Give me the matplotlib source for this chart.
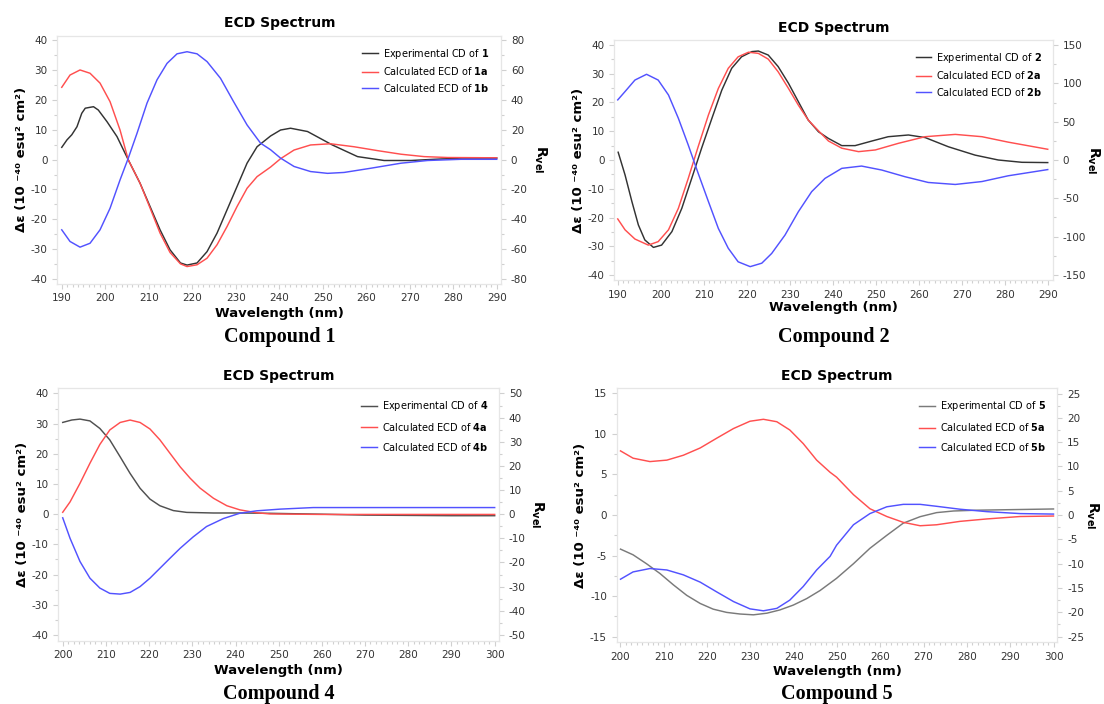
import matplotlib
matplotlib.use('Agg')
import matplotlib.pyplot as plt
from matplotlib.ticker import MultipleLocator, AutoMinorLocator

plt.rcParams['font.family'] = 'DejaVu Sans'
plt.rcParams['axes.unicode_minus'] = False

# ---- data (Δε for experimental, R_vel for calculated) ----

# Compound 1
wl_exp1 = [190, 191.2, 192.3, 193.5, 194.6, 195.4, 196.5, 197.3, 198.4, 200.4, 202.7, 205.3, 208.0,
           210.3, 212.6, 214.9, 217.3, 218.8, 221.1, 223.4, 225.7, 228.0, 230.3, 232.6, 234.9, 238.0,
           240.3, 242.6, 246.5, 252.2, 258.0, 264.1, 270.3, 275.6, 281.8, 290]
exp1 = [4.1, 6.6, 8.3, 11.0, 15.5, 17.2, 17.5, 17.7, 16.6, 12.7, 7.7, -0.1, -7.9,
        -15.7, -23.5, -30.2, -34.6, -35.3, -34.6, -30.8, -24.6, -16.8, -9.0, -1.2, 4.3, 7.9,
        9.9, 10.5, 9.4, 4.9, 1.0, -0.3, -0.3, 0.1, 0.5, 0.5]
wl_1a = [190, 191.9, 194.2, 196.5, 198.8, 201.1, 203.4, 205.3, 208.0, 210.3, 212.6, 214.9, 217.3,
         218.8, 221.1, 223.4, 225.7, 228.0, 230.3, 232.6, 234.9, 238.0, 240.3, 243.4, 247.2, 251.8,
         257.2, 262.6, 268.0, 273.3, 278.7, 290]
calc1a = [48.4, 56.6, 60.0, 57.8, 51.2, 38.8, 19.8, -0.2, -15.8, -32.4, -49.2, -62.2, -69.8,
          -71.6, -70.4, -66.0, -57.0, -44.8, -31.4, -19.2, -11.4, -5.0, 0.6, 6.4, 9.8, 10.6,
          8.6, 6.0, 3.6, 2.0, 1.4, 1.2]
wl_1b = [190, 191.9, 194.2, 196.5, 198.8, 201.1, 203.4, 205.3, 207.3, 209.6, 211.9, 214.2, 216.5,
         218.8, 221.1, 223.4, 226.5, 229.5, 232.6, 235.7, 238.0, 240.3, 243.4, 247.2, 251.1, 254.9,
         261.0, 268.0, 274.1, 281.8, 290]
calc1b = [-47.0, -54.8, -58.6, -56.0, -47.0, -32.6, -13.6, 1.0, 17.6, 37.8, 53.4, 64.4, 70.8,
          72.2, 70.8, 65.6, 54.4, 38.8, 23.2, 11.0, 6.6, 1.0, -4.6, -8.0, -9.2, -8.6,
          -5.8, -2.4, -0.6, 0.2, 0.2]

# Compound 2
wl_exp2 = [190.1, 191.7, 193.3, 194.8, 196.3, 198.3, 200.2, 202.6, 204.9, 207.2, 209.5, 211.9, 214.2,
           216.5, 218.8, 221.2, 222.7, 225.0, 227.3, 229.7, 232.0, 234.3, 236.7, 239.0, 242.1, 245.2,
           249.1, 252.9, 257.6, 261.5, 266.9, 273.1, 278.5, 284.0, 290]
exp2 = [2.7, -5.2, -14.5, -22.6, -27.8, -30.4, -29.6, -24.9, -16.8, -6.4, 4.1, 14.5, 24.3,
        31.9, 35.9, 37.7, 37.9, 36.5, 32.5, 26.7, 20.3, 13.9, 9.8, 7.5, 5.0, 5.0,
        6.6, 8.1, 8.7, 7.8, 4.6, 1.7, 0.0, -0.8, -0.9]
wl_2a = [190, 191.7, 194.0, 197.1, 199.4, 201.8, 204.1, 206.4, 208.7, 211.1, 213.4, 215.7, 218.0,
         220.4, 222.7, 225.0, 227.3, 229.7, 232.0, 234.3, 236.7, 239.0, 242.1, 246.0, 249.9, 255.3,
         261.5, 268.5, 274.7, 280.8, 290]
calc2a = [-76.9, -91.1, -103.1, -111.0, -106.5, -91.1, -63.0, -24.0, 17.3, 58.9, 93.4, 119.6, 134.6,
          140.6, 139.1, 131.6, 115.1, 93.4, 71.6, 52.1, 38.0, 24.8, 15.4, 10.9, 13.1, 21.8,
          30.4, 33.4, 30.4, 23.3, 14.0]
wl_2b = [190, 191.7, 194.0, 196.7, 199.4, 201.8, 204.1, 206.4, 208.7, 211.1, 213.4, 215.7, 218.0,
         220.8, 223.5, 225.8, 228.9, 232.0, 235.1, 238.2, 242.1, 246.7, 251.4, 256.8, 262.2, 268.5,
         274.7, 280.8, 290]
calc2b = [78.4, 89.3, 104.3, 111.8, 104.3, 84.8, 54.4, 19.5, -17.3, -54.4, -89.3, -115.1, -132.8,
          -139.1, -134.6, -121.9, -97.9, -67.5, -41.3, -24.0, -10.9, -7.9, -13.1, -21.8, -29.3, -31.9,
          -28.1, -20.6, -12.5]

# Compound 4
wl_exp4 = [200, 202.1, 204.0, 206.3, 208.6, 210.9, 213.3, 215.6, 217.9, 220.2, 222.5, 225.6, 228.7,
           234.9, 241.0, 248.0, 260, 270, 280, 290, 300]
exp4 = [30.4, 31.2, 31.5, 30.9, 28.4, 24.6, 19.0, 13.5, 8.6, 5.0, 2.8, 1.2, 0.6,
        0.4, 0.4, 0.3, 0.0, -0.3, -0.4, -0.5, -0.5]
wl_4a = [200, 201.7, 204.0, 206.3, 208.6, 210.9, 213.3, 215.6, 217.9, 220.2, 222.5, 224.8, 227.2,
         229.5, 231.8, 234.9, 238.0, 241.0, 244.9, 248.0, 260, 300]
calc4a = [0.8, 5.1, 12.8, 21.1, 28.9, 34.9, 38.0, 39.0, 38.0, 35.3, 30.8, 25.3, 19.6,
          14.9, 10.8, 6.6, 3.5, 1.8, 0.6, 0.1, -0.1, -0.1]
wl_4b = [200, 201.7, 204.0, 206.3, 208.6, 210.9, 213.3, 215.6, 217.9, 220.2, 222.5, 224.8, 227.2,
         230.2, 233.3, 237.2, 241.0, 244.9, 248.0, 250.3, 258.0, 300]
calc4b = [-1.5, -10.0, -19.6, -26.5, -30.6, -32.8, -33.1, -32.4, -30.0, -26.5, -22.4, -18.3, -14.1,
          -9.4, -5.1, -1.8, 0.4, 1.4, 1.8, 2.1, 2.75, 2.75]

# Compound 5
wl_exp5 = [200, 202.9, 206.0, 209.1, 212.2, 215.3, 218.4, 221.4, 224.5, 227.6, 230.7, 233.8, 236.8,
           239.9, 243.0, 246.1, 249.9, 253.8, 257.6, 261.5, 265.3, 269.2, 273.0, 276.9, 282.3, 288.4, 300]
exp5 = [-4.2, -4.9, -6.0, -7.2, -8.6, -9.9, -10.9, -11.6, -12.0, -12.2, -12.3, -12.1, -11.7,
        -11.1, -10.3, -9.3, -7.8, -6.0, -4.1, -2.5, -1.0, -0.2, 0.3, 0.5, 0.6, 0.65, 0.75]
wl_5 = [200, 202.9, 206.8, 210.7, 214.5, 218.4, 222.2, 226.1, 229.9, 233.0, 236.1, 239.1, 242.2,
        245.3, 248.4, 249.9, 253.8, 257.6, 261.5, 265.3, 269.2, 273.0, 278.4, 284.6, 292.3, 300]
calc5a = [13.2, 11.7, 11.0, 11.3, 12.3, 13.8, 15.8, 17.8, 19.3, 19.7, 19.2, 17.5, 14.7,
          11.3, 8.8, 7.8, 4.2, 1.3, -0.3, -1.5, -2.2, -2.0, -1.3, -0.8, -0.3, -0.2]
calc5b = [-13.2, -11.7, -11.0, -11.3, -12.3, -13.8, -15.8, -17.8, -19.3, -19.7, -19.2, -17.5, -14.7,
          -11.3, -8.5, -6.2, -2.0, 0.3, 1.7, 2.2, 2.2, 1.8, 1.2, 0.7, 0.3, 0.2]

# ---- figure ----
W, H = 1104, 704
fig = plt.figure(figsize=(W / 100, H / 100), dpi=100)

RED = '#ff4f4f'
BLUE = '#5252ff'
SPINE = '#e6e6e6'
TICK = '#d0d0d0'
TXT = '#333333'


def px_axes(left, top, width, height):
    return fig.add_axes([left / W, 1 - (top + height) / H, width / W, height / H])


def px_text(x, y, s, **kw):
    fig.text(x / W, 1 - y / H, s, ha='center', va='center', **kw)


def style(ax):
    for sp in ax.spines.values():
        sp.set_color(SPINE)
        sp.set_linewidth(0.8)
    ax.tick_params(which='both', direction='out', color=TICK, width=0.8, labelsize=7.5, labelcolor=TXT)
    ax.tick_params(which='major', length=3.5)
    ax.tick_params(which='minor', length=2)


def panel(box, xlim, ylim, rlim, ystep, rstep, num, exp_color,
          ex, ey, ax_, ay, bx, by, title_y, xlab_y, comp_y, leg_spacing, r_off):
    left, top, width, height = box
    ax = px_axes(left, top, width, height)
    ax2 = ax.twinx()

    l1, = ax.plot(ex, ey, color=exp_color, lw=1.05)
    l2, = ax2.plot(ax_, ay, color=RED, lw=1.05)
    l3, = ax2.plot(bx, by, color=BLUE, lw=1.05)

    ax.set_xlim(*xlim)
    ax.set_ylim(-ylim, ylim)
    ax2.set_ylim(-rlim, rlim)
    x0 = int(round(xlim[0] / 10.0)) * 10
    ax.set_xticks(range(x0, x0 + 101, 10))
    ax.xaxis.set_minor_locator(AutoMinorLocator(8))
    ax.yaxis.set_major_locator(MultipleLocator(ystep))
    ax.yaxis.set_minor_locator(MultipleLocator(ystep / 2))
    ax2.yaxis.set_major_locator(MultipleLocator(rstep))
    ax2.yaxis.set_minor_locator(MultipleLocator(rstep / 2))
    style(ax)
    style(ax2)

    ax.legend([l1, l2, l3],
              ['Experimental CD of $\\mathbf{%s}$' % num,
               'Calculated ECD of $\\mathbf{%sa}$' % num,
               'Calculated ECD of $\\mathbf{%sb}$' % num],
              loc='upper left', bbox_to_anchor=(0.687, 0.955), frameon=False,
              fontsize=7, handlelength=1.6, handletextpad=0.5,
              labelspacing=leg_spacing, borderpad=0, borderaxespad=0)

    cx = left + width / 2
    px_text(cx, title_y, 'ECD Spectrum', fontsize=10, fontweight='bold', color='black')
    px_text(cx, xlab_y, 'Wavelength (nm)', fontsize=9.5, fontweight='bold', color='black')
    px_text(cx, comp_y, 'Compound %s' % num, fontsize=14.5, fontweight='bold',
            family='Liberation Serif', color='black')
    cy = top + height / 2
    px_text(left - 36, cy, 'Δε (10 ⁻⁴⁰ esu² cm²)', fontsize=9.5, fontweight='bold',
            rotation=90, color='black')
    px_text(left + width + r_off, cy, '$\\mathbf{R_{vel}}$', fontsize=10, rotation=270, color='black')
    return ax


panel((57.4, 35.6, 443.7, 248.0), (189, 291), 41.5, 83, 10, 20, '1', '#333333',
      wl_exp1, exp1, wl_1a, calc1a, wl_1b, calc1b, 22.5, 313, 337, 0.45, 39)
panel((614.3, 40.1, 438.6, 239.8), (189.2, 291.2), 41.7, 156.4, 10, 50, '2', '#333333',
      wl_exp2, exp2, wl_2a, calc2a, wl_2b, calc2b, 28.3, 307, 337, 0.45, 40)
panel((58.4, 387.7, 440.6, 253.0), (199, 301), 41.9, 52.4, 10, 10, '4', '#505050',
      wl_exp4, exp4, wl_4a, calc4a, wl_4b, calc4b, 376, 670.5, 694, 0.8, 38)
panel((616.6, 387.7, 440.8, 254.7), (199.1, 300.9), 15.7, 26.2, 5, 5, '5', '#7a7a7a',
      wl_exp5, exp5, wl_5, calc5a, wl_5, calc5b, 376, 672, 694, 0.8, 35)

fig.savefig('out.png', dpi=100)
